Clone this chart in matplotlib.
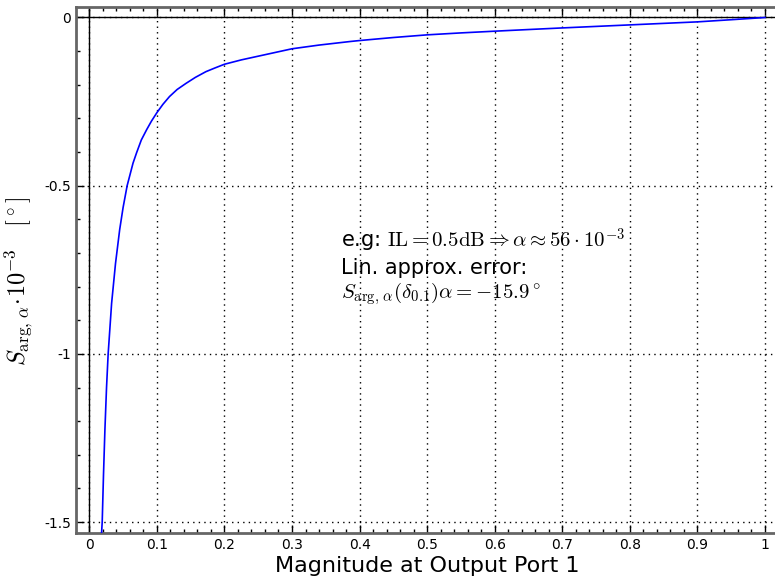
import numpy as np
import matplotlib
matplotlib.use("Agg")
import matplotlib.pyplot as plt
from matplotlib.ticker import MultipleLocator, FixedLocator

plt.rcParams['mathtext.fontset'] = 'cm'

# magnitude at output port 1 vs S_arg,alpha (x 10^-3 deg)
magnitude = [0.0182, 0.0191, 0.0210, 0.0231, 0.0255, 0.0279, 0.0330, 0.0388,
             0.0450, 0.0500, 0.0560, 0.0647, 0.0700, 0.0770, 0.0850, 0.0920,
             0.1000, 0.1090, 0.1187, 0.1300, 0.1430, 0.1570, 0.1726, 0.1860,
             0.2000, 0.2250, 0.2500, 0.2750, 0.3000, 0.3400, 0.3860, 0.4000,
             0.4500, 0.5000, 0.5500, 0.6000, 0.6500, 0.7000, 0.7500, 0.8000,
             0.8500, 0.9000, 0.9500, 1.0000]
s_arg = [-1.531, -1.500, -1.360, -1.226, -1.100, -1.000, -0.850, -0.731,
         -0.630, -0.565, -0.500, -0.433, -0.402, -0.364, -0.333, -0.308,
         -0.283, -0.258, -0.235, -0.214, -0.196, -0.178, -0.161, -0.150,
         -0.139, -0.126, -0.115, -0.104, -0.093, -0.082, -0.0714, -0.0685,
         -0.0595, -0.0516, -0.0458, -0.0407, -0.0358, -0.031, -0.0265, -0.022,
         -0.0175, -0.013, -0.0066, 0.0]

x_ticks = [0, 0.1, 0.2, 0.3, 0.4, 0.5, 0.6, 0.7, 0.8, 0.9, 1]
x_labels = ['0', '0.1', '0.2', '0.3', '0.4', '0.5', '0.6', '0.7', '0.8', '0.9', '1']
y_ticks = [0, -0.5, -1, -1.5]
y_labels = ['0', '-0.5', '-1', '-1.5']

note = ("e.g: $\\mathrm{IL}=0.5\\mathrm{dB}\\Rightarrow\\alpha\\approx 56\\cdot 10^{-3}$\n"
        "Lin. approx. error:\n"
        "$S_{\\mathrm{arg},\\,\\alpha}(\\delta_{0.1})\\alpha=-15.9^\\circ$")

W, H = 775, 580
px_per_unit = 675.7
left_px, right_px, zero_px = 76, 790, 89.3
# axes run past the picture's right edge, like the original
x0 = (left_px - zero_px) / px_per_unit
x1 = (right_px - zero_px) / px_per_unit

fig = plt.figure(figsize=(W / 100, H / 100), dpi=100)
ax = fig.add_axes([left_px / W, (H - 532.7) / H, (right_px - left_px) / W, (532.7 - 7.3) / H])

ax.set_xlim(x0, x1)
ax.set_ylim(-1.5315, 0.0303)

# grid + axis lines
for xt in x_ticks:
    ax.axvline(xt, color='black', ls=(0, (1, 3)), lw=1, zorder=1)
for yt in y_ticks:
    ax.axhline(yt, color='black', ls=(0, (1, 3)), lw=1, zorder=1)
ax.axvline(0, color='black', lw=1, zorder=2)
ax.axhline(0, color='black', lw=1, zorder=2)

ax.plot(magnitude, s_arg, color='blue', lw=1.2, zorder=3)

ax.xaxis.set_major_locator(FixedLocator(x_ticks))
ax.set_xticklabels(x_labels)
ax.xaxis.set_minor_locator(FixedLocator(np.arange(0, 1.001, 0.02)))
ax.yaxis.set_major_locator(FixedLocator(y_ticks))
ax.set_yticklabels(y_labels)
ax.yaxis.set_minor_locator(MultipleLocator(0.1))

for s in ax.spines.values():
    s.set_color('#666666')
    s.set_linewidth(2)
ax.spines['right'].set_visible(False)
ax.tick_params(which='both', direction='in', top=True, right=False,
               labelsize=10, color='black')
ax.tick_params(which='major', length=6, width=1)
ax.tick_params(which='minor', length=3, width=1)

ax.set_xlabel('Magnitude at Output Port 1', fontsize=16, labelpad=3)
ax.xaxis.label.set_x((427 - left_px) / (right_px - left_px))
ax.set_ylabel('$S_{\\mathrm{arg},\\,\\alpha}\\!\\cdot\\!10^{-3}\\quad[^\\circ]$',
              fontsize=17.5, labelpad=6)
ax.yaxis.label.set_y(0.479)

ax.text(0.372, -0.742, note, fontsize=15, ha='left', va='center',
        linespacing=1.15, zorder=4)

fig.savefig('out.png', dpi=100)
